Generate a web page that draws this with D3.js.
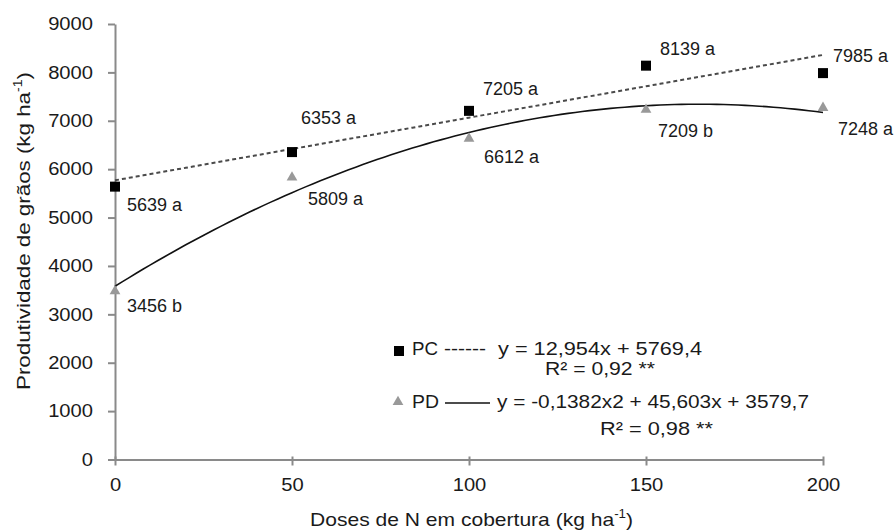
<!DOCTYPE html>
<html>
<head>
<meta charset="utf-8">
<script src="https://cdn.jsdelivr.net/npm/d3@7"></script>
<style>
  html, body { margin: 0; padding: 0; background: #fff; }
  svg text { font-family: "Liberation Sans", Arial, sans-serif; fill: #1a1a1a; }
</style>
</head>
<body>
<svg id="chart" width="896" height="532"></svg>
<script>
// Doses of N (kg/ha) and grain yield per system
const doses = [0, 50, 100, 150, 200];
const pcValues = [5639, 6353, 7205, 8139, 7985];
const pdValues = [3456, 5809, 6612, 7209, 7248];
const pcLetters = ["a", "a", "a", "a", "a"];
const pdLetters = ["b", "a", "a", "b", "a"];
// Regression coefficients: [intercept, linear, quadratic]
const pcCoef = [5769.4, 12.954, 0];
const pdCoef = [3579.7, 45.603, -0.1382];
const yTicks = [0, 1000, 2000, 3000, 4000, 5000, 6000, 7000, 8000, 9000];
const xTicks = [0, 50, 100, 150, 200];

const svg = d3.select("#chart");
const x = d3.scaleLinear().domain([0, 200]).range([115, 823]);
const y = d3.scaleLinear().domain([0, 9000]).range([459.5, 24]);
const axisColor = "#8a8a8a";

// Widen glyph runs slightly (wide sans rendering)
function stretch(sel, k) {
  sel.each(function () {
    const w = this.getComputedTextLength();
    d3.select(this).attr("textLength", w * k).attr("lengthAdjust", "spacingAndGlyphs");
  });
}
function fitTo(sel, w) {
  sel.attr("textLength", w).attr("lengthAdjust", "spacingAndGlyphs");
}

// Axes
const gy = svg.append("g").attr("transform", `translate(${x(0)},0)`)
  .call(d3.axisLeft(y).tickValues(yTicks).tickFormat(d3.format("d"))
    .tickSize(7).tickPadding(15).tickSizeOuter(0));
const gx = svg.append("g").attr("transform", `translate(0,${y(0)})`)
  .call(d3.axisBottom(x).tickValues(xTicks).tickFormat(d3.format("d"))
    .tickSize(7).tickPadding(12).tickSizeOuter(0));
[gy, gx].forEach(g => {
  g.select(".domain").attr("stroke", axisColor).attr("stroke-width", 2);
  g.selectAll(".tick line").attr("stroke", axisColor).attr("stroke-width", 2);
  g.selectAll(".tick text").attr("font-size", 18).attr("fill", "#1a1a1a")
    .style("font-family", "'Liberation Sans', Arial, sans-serif");
  stretch(g.selectAll(".tick text"), 1.12);
});
// x-axis ticks cross the axis line
gx.selectAll(".tick line").attr("y1", -3).attr("y2", 6);

// Axis titles
const xt = svg.append("text").attr("x", 471.5).attr("y", 526).attr("text-anchor", "middle").attr("font-size", 19);
xt.append("tspan").text("Doses de N  em cobertura (kg ha");
xt.append("tspan").text("-1").attr("font-size", 12).attr("dy", -8);
xt.append("tspan").text(")").attr("dy", 8);
fitTo(xt, 323);

const yt = svg.append("text").attr("transform", "translate(30,231) rotate(-90)")
  .attr("text-anchor", "middle").attr("font-size", 19);
yt.append("tspan").text("Produtividade de grãos (kg ha");
yt.append("tspan").text("-1").attr("font-size", 12).attr("dy", -8);
yt.append("tspan").text(")").attr("dy", 8);
fitTo(yt, 318);

// Trend lines from the fitted equations
const fit = c => v => c[0] + c[1] * v + c[2] * v * v;
const grid = d3.range(0, 201, 2);
const line = f => d3.line().x(d => x(d)).y(d => y(f(d)));
svg.append("path").datum(grid).attr("d", line(fit(pcCoef)))
  .attr("fill", "none").attr("stroke", "#4a4a4a").attr("stroke-width", 2).attr("stroke-dasharray", "4,3");
svg.append("path").datum(grid).attr("d", line(fit(pdCoef)))
  .attr("fill", "none").attr("stroke", "#111").attr("stroke-width", 1.6);

// Markers
const tri = d3.symbol().type(d3.symbolTriangle).size(50);
svg.selectAll(".pd").data(doses).join("path").attr("class", "pd")
  .attr("d", tri).attr("fill", "#999")
  .attr("transform", (d, i) => `translate(${x(d)},${y(pdValues[i]) - 1})`);
svg.selectAll(".pc").data(doses).join("rect").attr("class", "pc")
  .attr("x", d => x(d) - 5).attr("y", (d, i) => y(pcValues[i]) - 5)
  .attr("width", 10).attr("height", 10).attr("fill", "#000");

// Value labels (offset from each marker)
const pcOff = [[12, 24], [9, -28], [14, -16], [14, -11], [10, -11]];
const pdOff = [[12, 20], [16, 27], [15, 23], [12, 26], [15, 26]];
svg.selectAll(".pcl").data(doses).join("text").attr("class", "pcl").attr("font-size", 18)
  .attr("x", (d, i) => x(d) + pcOff[i][0]).attr("y", (d, i) => y(pcValues[i]) + pcOff[i][1])
  .text((d, i) => `${pcValues[i]} ${pcLetters[i]}`);
svg.selectAll(".pdl").data(doses).join("text").attr("class", "pdl").attr("font-size", 18)
  .attr("x", (d, i) => x(d) + pdOff[i][0]).attr("y", (d, i) => y(pdValues[i]) + pdOff[i][1])
  .text((d, i) => `${pdValues[i]} ${pdLetters[i]}`);

// Legend with equations
const lg = svg.append("g");
lg.append("rect").attr("x", 394).attr("y", 346).attr("width", 10).attr("height", 10).attr("fill", "#000");
fitTo(lg.append("text").attr("x", 412).attr("y", 355).attr("font-size", 19).text("PC"), 26);
fitTo(lg.append("text").attr("x", 444).attr("y", 355).attr("font-size", 19).text("------"), 42);
fitTo(lg.append("text").attr("x", 498).attr("y", 355).attr("font-size", 19).text("y = 12,954x + 5769,4"), 204);
fitTo(lg.append("text").attr("x", 545).attr("y", 375).attr("font-size", 19).text("R² = 0,92 **"), 110);
lg.append("path").attr("d", tri).attr("fill", "#999").attr("transform", "translate(398,402)");
fitTo(lg.append("text").attr("x", 412).attr("y", 408).attr("font-size", 19).text("PD"), 27);
lg.append("line").attr("x1", 445).attr("x2", 490).attr("y1", 403).attr("y2", 403)
  .attr("stroke", "#111").attr("stroke-width", 1.6);
fitTo(lg.append("text").attr("x", 497).attr("y", 408).attr("font-size", 19).text("y = -0,1382x2 + 45,603x + 3579,7"), 312);
fitTo(lg.append("text").attr("x", 600).attr("y", 435).attr("font-size", 19).text("R² = 0,98 **"), 113);
</script>
</body>
</html>
